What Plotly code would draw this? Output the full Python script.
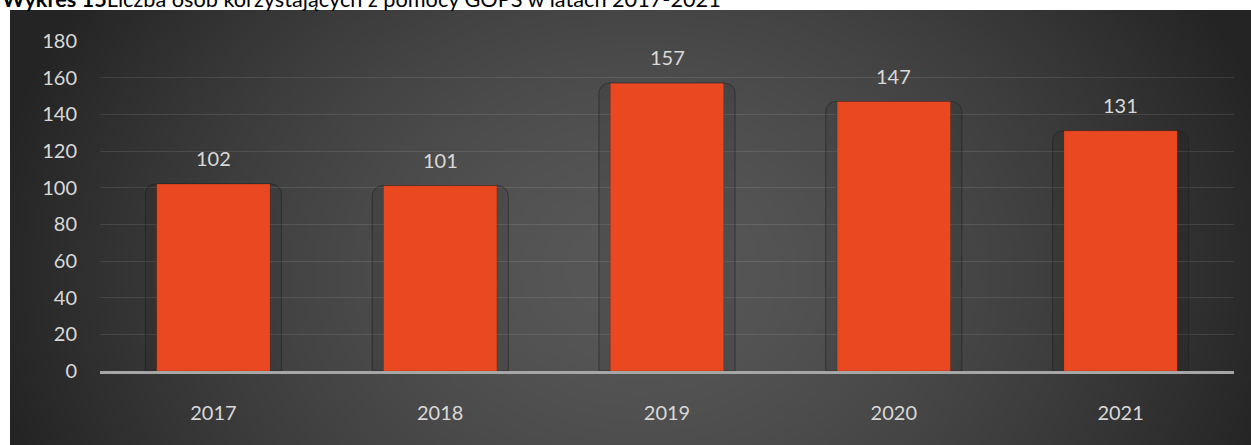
import base64, struct, zlib
import numpy as np
import plotly.graph_objects as go

# ---- data ----
years = ["2017", "2018", "2019", "2020", "2021"]
persons = [102, 101, 157, 147, 131]
y_ticks = [0, 20, 40, 60, 80, 100, 120, 140, 160, 180]

W, H = 1251, 445
ML, MR, MT, MB = 100, 17, 41, 74

# ---- background radial gradient as PNG ----
def make_png(arr):
    h, w, _ = arr.shape
    raw = b"".join(b"\x00" + arr[r].tobytes() for r in range(h))
    def chunk(t, d):
        c = struct.pack(">I", len(d)) + t + d
        return c + struct.pack(">I", zlib.crc32(t + d) & 0xffffffff)
    return (b"\x89PNG\r\n\x1a\n" + chunk(b"IHDR", struct.pack(">IIBBBBB", w, h, 8, 2, 0, 0, 0))
            + chunk(b"IDAT", zlib.compress(raw, 9)) + chunk(b"IEND", b""))

bw, bh = 1241, 435
gx, gy = np.meshgrid(np.arange(bw), np.arange(bh))
cx, cy = 630, 260
t = np.sqrt(((gx - cx) / 660.0) ** 2 + ((gy - cy) / 520.0) ** 2)
t = np.clip(t, 0, 1) ** 1.5
c = (88 - (88 - 36) * t).astype(np.uint8)
img = np.stack([c, c, c], axis=-1)
uri = "data:image/png;base64," + base64.b64encode(make_png(img)).decode()

pw, ph = W - ML - MR, H - MT - MB
fig = go.Figure()

# soft shadow frame behind bars
fig.add_trace(go.Bar(
    x=years, y=persons, width=0.6,
    marker=dict(color="rgba(0,0,0,0.07)", line=dict(color="rgba(30,30,30,0.55)", width=1), cornerradius=10),
    hoverinfo="skip", showlegend=False,
))
fig.add_trace(go.Bar(
    x=years, y=persons, width=0.5,
    marker=dict(color="#EA4820", line=dict(color="rgba(0,0,0,0.15)", width=1)),
    showlegend=False,
))

for i, v in enumerate(persons):
    fig.add_annotation(x=i, y=v, text=str(v), showarrow=False, yanchor="middle", yshift=26,
                       font=dict(family="Lato", size=20, color="#d9d9d9"))

fig.add_annotation(
    xref="paper", yref="paper", x=-ML / pw, y=1 + (MT + 1) / ph, xanchor="left", yanchor="middle",
    text="<b>Wykres 15</b>Liczba osób korzystających z pomocy GOPS w latach 2017-2021",
    showarrow=False, font=dict(family="Lato", size=21.7, color="#000000"),
)

fig.add_layout_image(dict(
    source=uri, xref="paper", yref="paper",
    x=(10 - ML) / pw, y=(H - MB - 10) / ph, sizex=bw / pw, sizey=bh / ph,
    xanchor="left", yanchor="top", sizing="stretch", layer="below",
))

fig.update_layout(
    width=W, height=H, margin=dict(l=ML, r=MR, t=MT, b=MB),
    paper_bgcolor="white", plot_bgcolor="rgba(0,0,0,0)",
    barmode="overlay", bargap=0.5,
    font=dict(family="Lato", size=20, color="#d9d9d9"),
    xaxis=dict(type="category", showgrid=False, showline=True, linecolor="#a6a6a6", linewidth=3,
               ticks="", ticklabelstandoff=22, tickfont=dict(size=20, color="#d9d9d9")),
    yaxis=dict(range=[0, 180], tickvals=y_ticks, showgrid=True, gridcolor="rgba(255,255,255,0.1)",
               gridwidth=1, zeroline=False, showline=False, ticks="", ticklabelstandoff=22,
               tickfont=dict(size=20, color="#d9d9d9")),
)

fig.write_html("out.html", config={"displayModeBar": False},
               post_script="document.body.style.margin='0';document.body.style.overflow='hidden';")
